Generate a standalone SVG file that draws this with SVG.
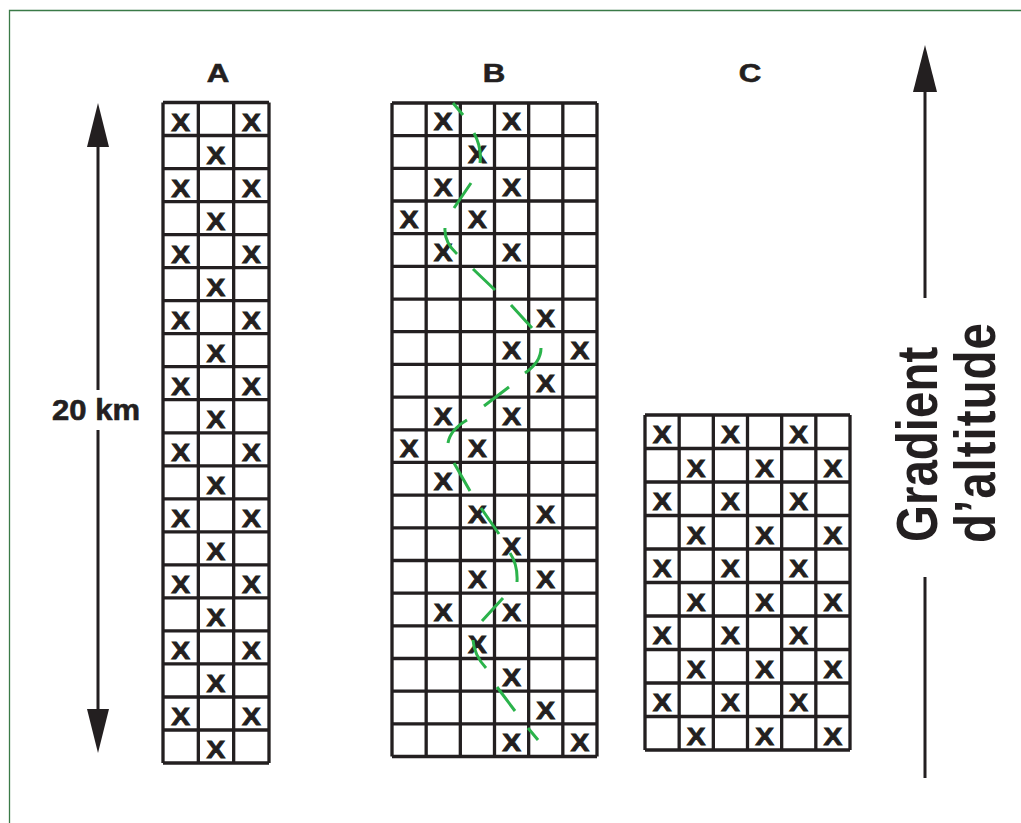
<svg xmlns="http://www.w3.org/2000/svg" width="1021" height="823" viewBox="0 0 1021 823">
<style>
.grid{fill:none;stroke:#231f20;stroke-width:3.3}
.x{font-family:"Liberation Sans",Arial,sans-serif;font-weight:bold;font-size:23.5px;fill:#231f20;stroke:#231f20;stroke-width:0.8;text-anchor:middle}
.lbl{font-family:"Liberation Sans",Arial,sans-serif;font-weight:bold;fill:#231f20}
.thick{stroke:#231f20;stroke-width:0.6}
.ln{stroke:#231f20;stroke-width:3;fill:none}
.head{fill:#231f20}
.dash{fill:none;stroke:#2bb34b;stroke-width:3}
</style>
<rect width="1021" height="823" fill="#ffffff"/>
<g id="frame"><path d="M9.5,823 V10.5 H1021" fill="none" stroke="#3a7a47" stroke-width="1.3"/></g>

<g id="labels">
<text class="lbl thick" font-size="26" text-anchor="middle" transform="translate(218,82) scale(1.2,1)">A</text>
<text class="lbl thick" font-size="26" text-anchor="middle" transform="translate(494,82) scale(1.2,1)">B</text>
<text class="lbl thick" font-size="26" text-anchor="middle" transform="translate(750,82) scale(1.2,1)">C</text>
</g>

<g id="scale-arrow">
<path class="ln" d="M98,144 V390 M98,430 V712"/>
<polygon class="head" points="98,103 87,147 109,147"/>
<polygon class="head" points="98,753 87,709 109,709"/>
<text class="lbl thick" font-size="29" text-anchor="middle" transform="translate(96,419.5) scale(1.07,1)">20 km</text>
</g>

<g id="gradient-arrow">
<path class="ln" d="M925,88 V298 M925,577 V778"/>
<polygon class="head" points="925,45 913,92 937,92"/>
<text class="lbl" font-size="47.5" transform="translate(937,542) scale(1.2,1) rotate(-90)">Gradient</text>
<text class="lbl" font-size="47.5" transform="translate(995,543) scale(1.2,1) rotate(-90)" textLength="220" lengthAdjust="spacing">d’altitude</text>
</g>

<g id="grid-A">
<path class="grid" d="M163,102.5 V763 M198.33,102.5 V763 M233.67,102.5 V763 M269,102.5 V763
M163,102.5 H269 M163,135.5 H269 M163,168.6 H269 M163,201.6 H269 M163,234.6 H269 M163,267.6 H269 M163,300.7 H269 M163,333.7 H269 M163,366.7 H269 M163,399.7 H269 M163,432.8 H269 M163,465.8 H269 M163,498.8 H269 M163,531.8 H269 M163,564.9 H269 M163,597.9 H269 M163,630.9 H269 M163,663.9 H269 M163,697 H269 M163,730 H269 M163,763 H269"/>
<g transform="scale(1.2,1)">
<text class="x" x="150.56" y="131">X</text><text class="x" x="209.44" y="131">X</text>
<text class="x" x="180" y="164">X</text>
<text class="x" x="150.56" y="197.1">X</text><text class="x" x="209.44" y="197.1">X</text>
<text class="x" x="180" y="230.1">X</text>
<text class="x" x="150.56" y="263.1">X</text><text class="x" x="209.44" y="263.1">X</text>
<text class="x" x="180" y="296.1">X</text>
<text class="x" x="150.56" y="329.2">X</text><text class="x" x="209.44" y="329.2">X</text>
<text class="x" x="180" y="362.2">X</text>
<text class="x" x="150.56" y="395.2">X</text><text class="x" x="209.44" y="395.2">X</text>
<text class="x" x="180" y="428.2">X</text>
<text class="x" x="150.56" y="461.3">X</text><text class="x" x="209.44" y="461.3">X</text>
<text class="x" x="180" y="494.3">X</text>
<text class="x" x="150.56" y="527.3">X</text><text class="x" x="209.44" y="527.3">X</text>
<text class="x" x="180" y="560.3">X</text>
<text class="x" x="150.56" y="593.4">X</text><text class="x" x="209.44" y="593.4">X</text>
<text class="x" x="180" y="626.4">X</text>
<text class="x" x="150.56" y="659.4">X</text><text class="x" x="209.44" y="659.4">X</text>
<text class="x" x="180" y="692.4">X</text>
<text class="x" x="150.56" y="725.5">X</text><text class="x" x="209.44" y="725.5">X</text>
<text class="x" x="180" y="758.5">X</text>
</g>
</g>

<g id="grid-B">
<path class="grid" d="M392,103 V756.5 M426.17,103 V756.5 M460.33,103 V756.5 M494.5,103 V756.5 M528.67,103 V756.5 M562.83,103 V756.5 M597,103 V756.5
M392,103 H597 M392,135.7 H597 M392,168.4 H597 M392,201 H597 M392,233.7 H597 M392,266.4 H597 M392,299.1 H597 M392,331.7 H597 M392,364.4 H597 M392,397.1 H597 M392,429.8 H597 M392,462.4 H597 M392,495.1 H597 M392,527.8 H597 M392,560.5 H597 M392,593.1 H597 M392,625.8 H597 M392,658.5 H597 M392,691.2 H597 M392,723.8 H597 M392,756.5 H597"/>
<g transform="scale(1.2,1)">
<text class="x" x="369.38" y="130.5">X</text><text class="x" x="426.32" y="130.5">X</text>
<text class="x" x="397.85" y="163.2">X</text>
<text class="x" x="369.38" y="195.9">X</text><text class="x" x="426.32" y="195.9">X</text>
<text class="x" x="340.9" y="228.5">X</text><text class="x" x="397.85" y="228.5">X</text>
<text class="x" x="369.38" y="261.2">X</text><text class="x" x="426.32" y="261.2">X</text>
<text class="x" x="454.79" y="326.6">X</text>
<text class="x" x="426.32" y="359.2">X</text><text class="x" x="483.27" y="359.2">X</text>
<text class="x" x="454.79" y="391.9">X</text>
<text class="x" x="369.38" y="424.6">X</text><text class="x" x="426.32" y="424.6">X</text>
<text class="x" x="340.9" y="457.3">X</text><text class="x" x="397.85" y="457.3">X</text>
<text class="x" x="369.38" y="489.9">X</text>
<text class="x" x="397.85" y="522.6">X</text><text class="x" x="454.79" y="522.6">X</text>
<text class="x" x="426.32" y="555.3">X</text>
<text class="x" x="397.85" y="588">X</text><text class="x" x="454.79" y="588">X</text>
<text class="x" x="369.38" y="620.6">X</text><text class="x" x="426.32" y="620.6">X</text>
<text class="x" x="397.85" y="653.3">X</text>
<text class="x" x="426.32" y="686">X</text>
<text class="x" x="454.79" y="718.7">X</text>
<text class="x" x="426.32" y="751.3">X</text><text class="x" x="483.27" y="751.3">X</text>
</g>
</g>

<g id="dashes">
<path class="dash" d="M453,103 L463,115 M474,133 Q482,148 480,163 M471,183 L454,208 M445,228 Q444,242 457,254 M473,269 L495,290 M511,305 L532,328 M541,348 Q541,362 525,373 M509,387 L484,406 M467,420 Q450,430 448,443 M454,463 L470,491 M481,508 L499,534 M510,553 Q518,565 517,582 M503,598 L482,621 M473,640 Q474,655 486,668 M497,687 L515,711 M528,728 L538,740"/>
</g>

<g id="grid-C">
<path class="grid" d="M645,415 V750 M679.17,415 V750 M713.33,415 V750 M747.5,415 V750 M781.67,415 V750 M815.83,415 V750 M850,415 V750
M645,415 H850 M645,448.5 H850 M645,482 H850 M645,515.5 H850 M645,549 H850 M645,582.5 H850 M645,616 H850 M645,649.5 H850 M645,683 H850 M645,716.5 H850 M645,750 H850"/>
<g transform="scale(1.2,1)">
<text class="x" x="551.74" y="443.5">X</text><text class="x" x="608.68" y="443.5">X</text><text class="x" x="665.63" y="443.5">X</text>
<text class="x" x="580.21" y="477">X</text><text class="x" x="637.15" y="477">X</text><text class="x" x="694.1" y="477">X</text>
<text class="x" x="551.74" y="510.5">X</text><text class="x" x="608.68" y="510.5">X</text><text class="x" x="665.63" y="510.5">X</text>
<text class="x" x="580.21" y="544">X</text><text class="x" x="637.15" y="544">X</text><text class="x" x="694.1" y="544">X</text>
<text class="x" x="551.74" y="577.5">X</text><text class="x" x="608.68" y="577.5">X</text><text class="x" x="665.63" y="577.5">X</text>
<text class="x" x="580.21" y="611">X</text><text class="x" x="637.15" y="611">X</text><text class="x" x="694.1" y="611">X</text>
<text class="x" x="551.74" y="644.5">X</text><text class="x" x="608.68" y="644.5">X</text><text class="x" x="665.63" y="644.5">X</text>
<text class="x" x="580.21" y="678">X</text><text class="x" x="637.15" y="678">X</text><text class="x" x="694.1" y="678">X</text>
<text class="x" x="551.74" y="711.5">X</text><text class="x" x="608.68" y="711.5">X</text><text class="x" x="665.63" y="711.5">X</text>
<text class="x" x="580.21" y="745">X</text><text class="x" x="637.15" y="745">X</text><text class="x" x="694.1" y="745">X</text>
</g>
</g>
</svg>
